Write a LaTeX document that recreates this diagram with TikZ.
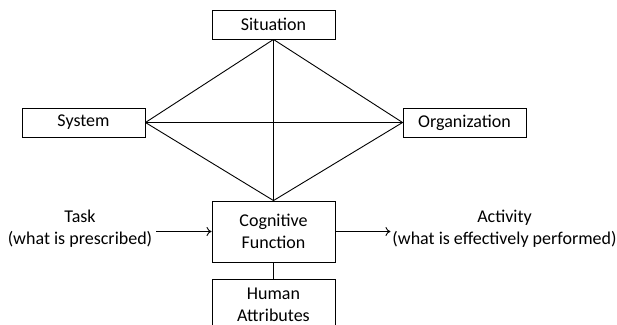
\documentclass[tikz,border=0pt]{standalone}
\usepackage{fontspec}
\setmainfont{Carlito}
\usetikzlibrary{arrows.meta}

\begin{document}
\begin{tikzpicture}[x=1pt,y=1pt]
        \tikzstyle{every node}+=[inner sep=0pt,font=\fontsize{18}{22}\selectfont,align=center]
        \tikzstyle{factor}=[draw=black,line width=0.9pt,minimum width=123,minimum height=29]
        \clip (0,0) rectangle (617,-324);
        \node [factor] (situation) at (273.5,-24.5) {Situation};
        \node [factor] (system) at (83.5,-122.5) {System};
        \node [factor] (organization) at (464.5,-122.5) {Organization};
        \node [factor,minimum height=61] (cogfun) at (273.5,-231.5) {Cognitive\\Function};
        \node [factor,minimum height=51] (human) at (273.5,-304.5) {Human\\Attributes};
        \node (task) at (80,-229) {Task\\(what is prescribed)};
        \node (activity) at (504.5,-229) {Activity\\(what is effectively performed)};
        \draw [black,line width=0.9pt] (situation.south) -- (system.east);
        \draw [black,line width=0.9pt] (situation.south) -- (organization.west);
        \draw [black,line width=0.9pt] (situation.south) -- (cogfun.north);
        \draw [black,line width=0.9pt] (system.east) -- (organization.west);
        \draw [black,line width=0.9pt] (system.east) -- (cogfun.north);
        \draw [black,line width=0.9pt] (organization.west) -- (cogfun.north);
        \draw [black,line width=0.9pt] (cogfun.south) -- (human.north);
        \draw [black,line width=0.9pt,-{To[length=5pt,width=9pt]}] (task.east |- cogfun.west) ++(4,0) -- (cogfun.west);
        \draw [black,line width=0.9pt,-{To[length=5pt,width=9pt]}] (cogfun.east) -- ++(55,0);
\end{tikzpicture}
\end{document}
